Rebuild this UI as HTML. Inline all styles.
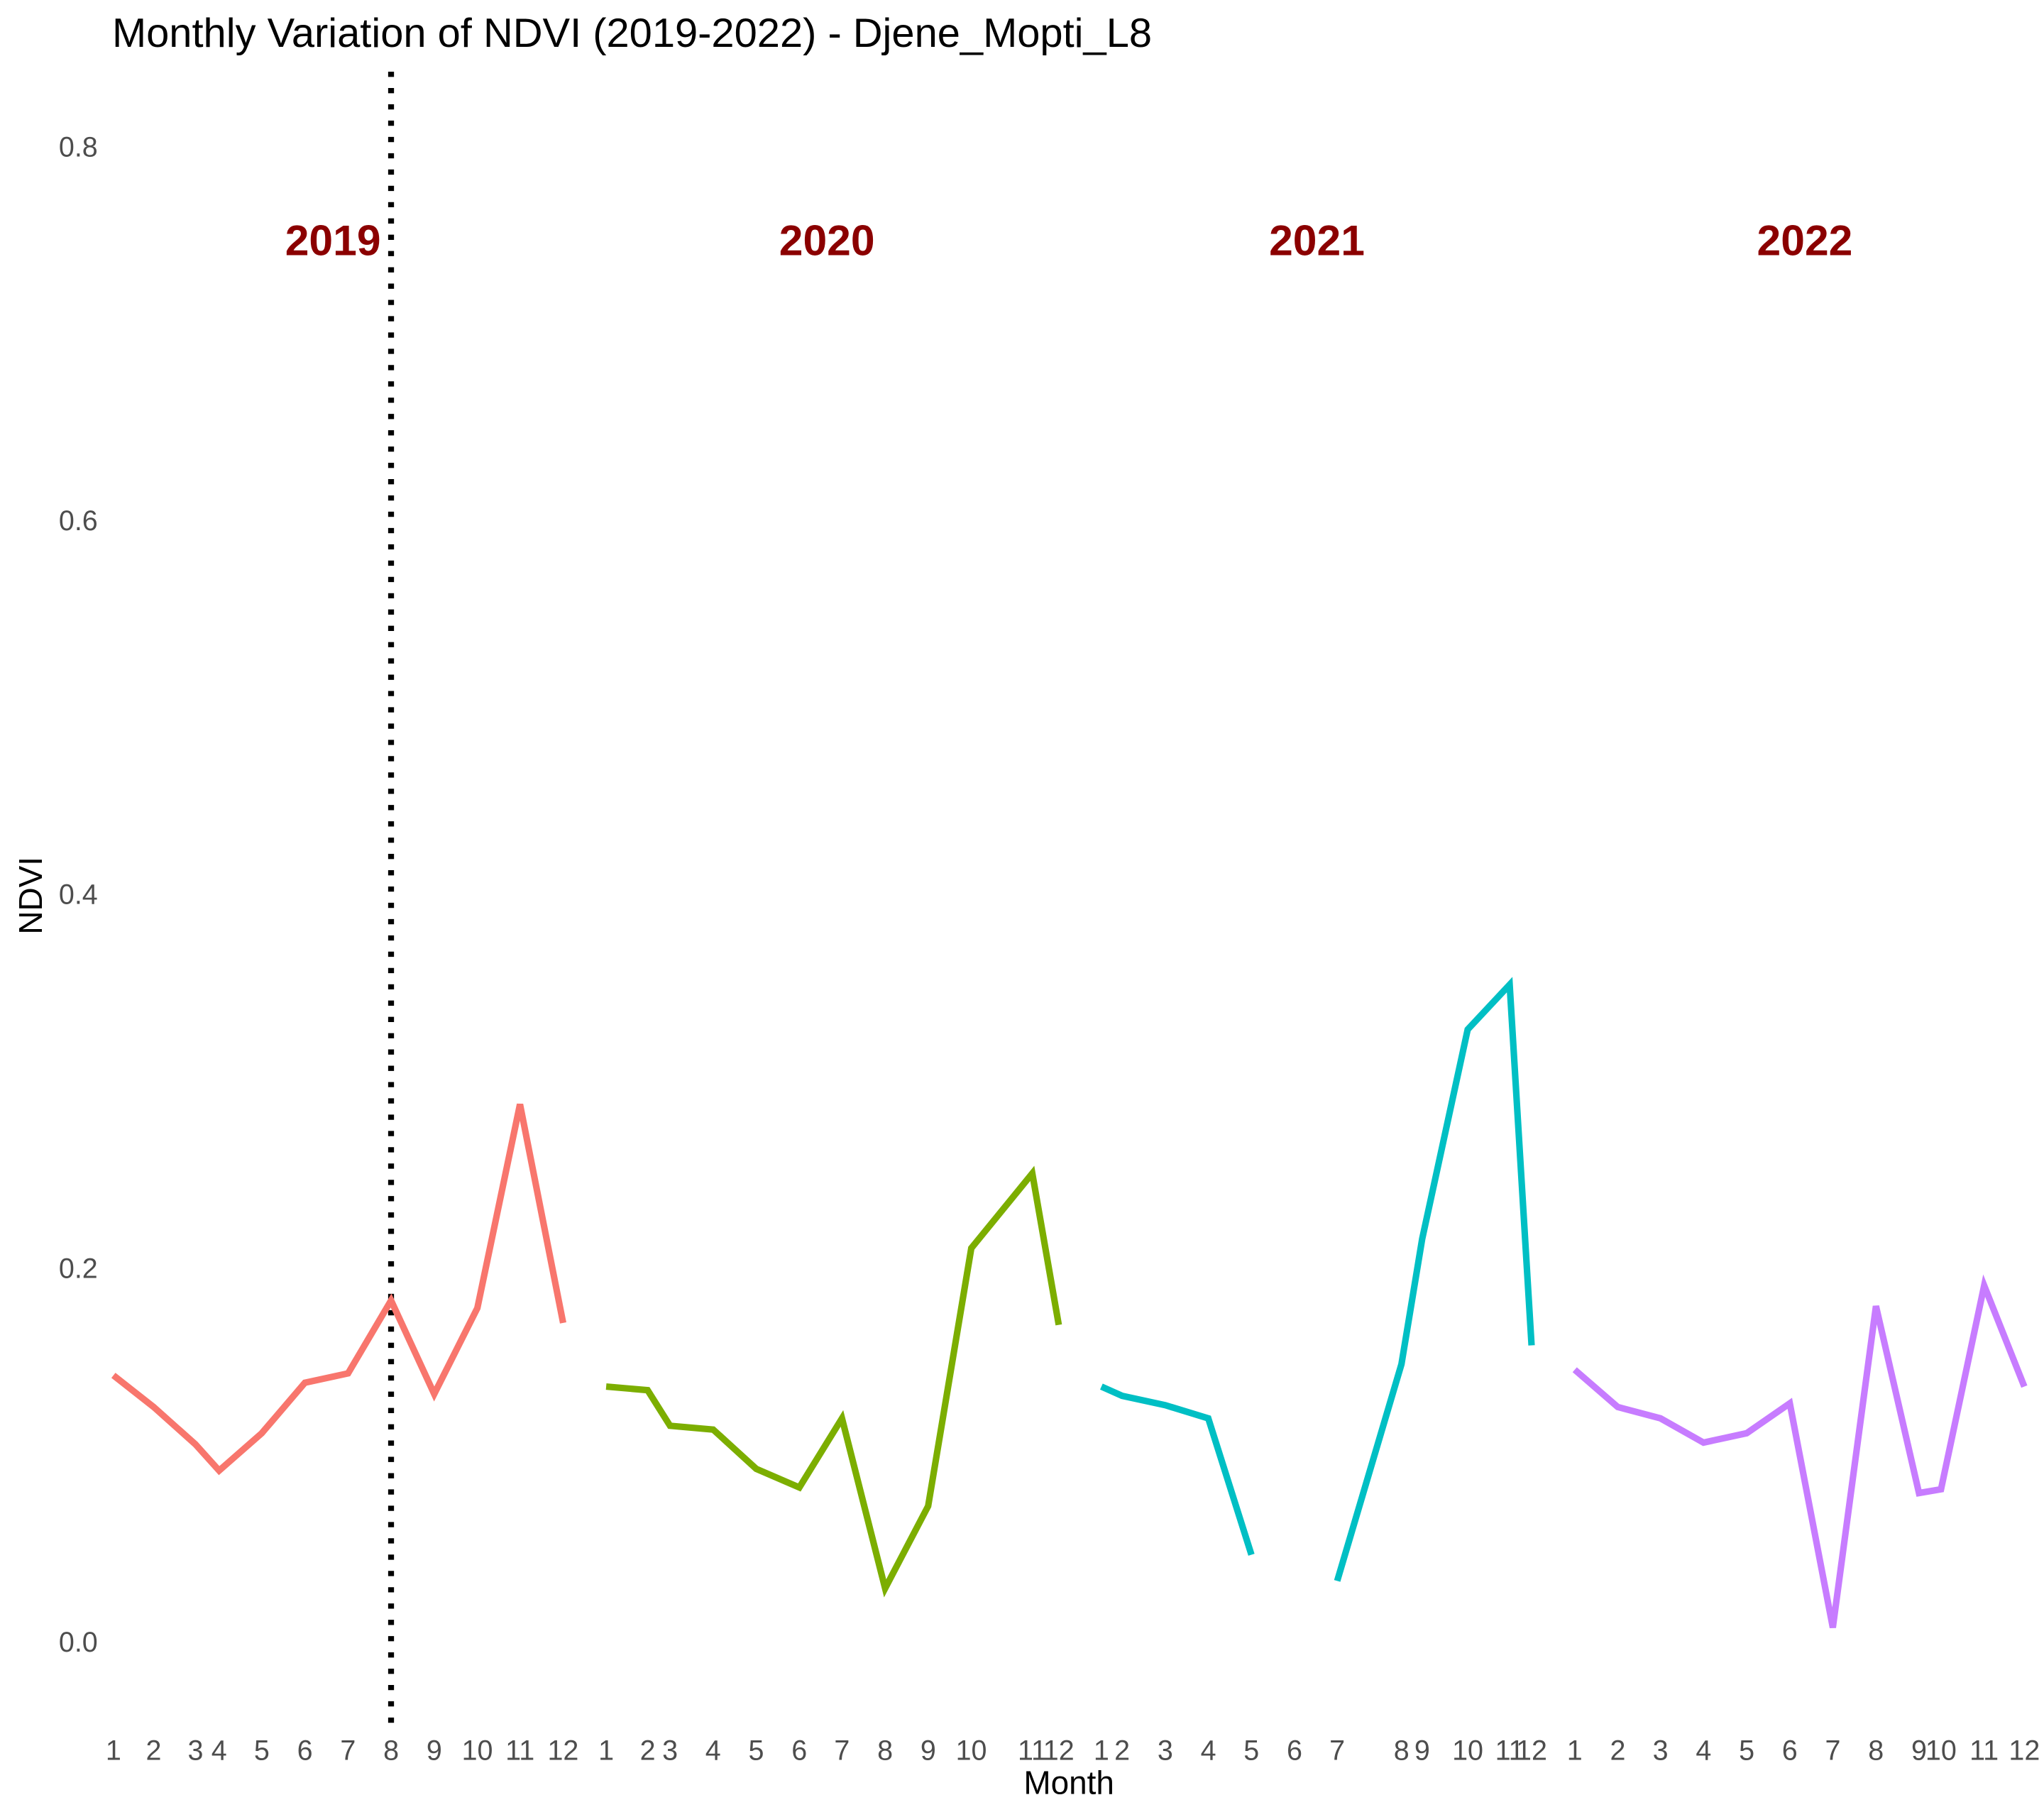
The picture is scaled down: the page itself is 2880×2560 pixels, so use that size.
<!DOCTYPE html>
<html><head><meta charset="utf-8"><style>
html,body{margin:0;padding:0;background:#fff}
svg{display:block}
text{font-family:"Liberation Sans",sans-serif}
</style></head><body>
<svg id="chart" width="2880" height="2560" viewBox="0 0 1568 1393.8" preserveAspectRatio="none" xmlns="http://www.w3.org/2000/svg">
<text x="86" y="36" font-size="31.5" fill="#000">Monthly Variation of NDVI (2019-2022) - Djene_Mopti_L8</text>
<text transform="translate(32,687) rotate(-90)" font-size="25" text-anchor="middle" fill="#000">NDVI</text>
<text x="820" y="1376" font-size="25" text-anchor="middle" fill="#000">Month</text>
<line x1="300" y1="55" x2="300" y2="1325" stroke="#000" stroke-width="4.5" stroke-dasharray="4,8.5"/>
<g id="yticks"></g><g id="xticks"></g><g id="lines"></g><g id="yearlabels"></g>
</svg>
<script>
const years = ['2019','2020','2021','2022'];
const colors = ['#F8766D','#7CAE00','#00BFC4','#C77CFF'];
const months = [1,2,3,4,5,6,7,8,9,10,11,12];
// x position in decimal months since Jan 2019
const t2019 = [0,0.99,2.02,2.6,3.65,4.71,5.77,6.83,7.89,8.95,10.0,11.06];
const t2020 = [12.12,13.14,13.69,14.75,15.81,16.87,17.92,18.98,20.04,21.1,22.6,23.25];
const t2021 = [24.3,24.81,25.87,26.93,27.99,29.05,30.1,31.68,32.19,33.31,34.34,34.88];
const t2022 = [35.94,37.0,38.05,39.11,40.17,41.23,42.29,43.35,44.41,44.95,46.01,47.0];
const v2019 = [0.143,0.126,0.106,0.092,0.112,0.139,0.144,0.183,0.133,0.179,0.288,0.171];
const v2020 = [0.137,0.135,0.116,0.114,0.093,0.083,0.120,0.029,0.073,0.211,0.251,0.170];
const v2021 = [0.137,0.132,0.127,0.120,0.047,null,0.033,0.149,0.216,0.328,0.352,0.159];
const v2022 = [0.146,0.126,0.120,0.107,0.112,0.128,0.008,0.180,0.080,0.082,0.191,0.137];
const yTicks = [0.0,0.2,0.4,0.6,0.8];
const yearLabelT = [5.4,17.55,29.6,41.6];
const yearLabelV = 0.75;

const NS='http://www.w3.org/2000/svg';
const xs = t => 87 + t*31.19;
const ys = v => 1260 - v*1433.75;
function mk(tag, parent){const e=document.createElementNS(NS,tag);document.getElementById(parent).appendChild(e);return e;}

yTicks.forEach(v=>{
  const e=mk('text','yticks');
  
  
  e.setAttribute('x',75);e.setAttribute('y',ys(v)+7);
  e.setAttribute('text-anchor','end');e.setAttribute('font-size','21.5');e.setAttribute('fill','#4d4d4d');
  e.textContent=v.toFixed(1);
});
const T=[t2019,t2020,t2021,t2022], V=[v2019,v2020,v2021,v2022];
T.forEach((ts,yi)=>{
  ts.forEach((t,i)=>{
    const e=mk('text','xticks');
    
    
    e.setAttribute('x',xs(t));e.setAttribute('y',1350);
    e.setAttribute('text-anchor','middle');e.setAttribute('font-size','21.5');e.setAttribute('fill','#4d4d4d');
    e.textContent=months[i];
  });
  let segs=[],cur=[];
  ts.forEach((t,i)=>{const v=V[yi][i]; if(v===null){if(cur.length)segs.push(cur);cur=[];} else cur.push(xs(t).toFixed(1)+','+ys(v).toFixed(1));});
  if(cur.length)segs.push(cur);
  segs.forEach(s=>{
    const p=mk('polyline','lines');
    
    
    p.setAttribute('points',s.join(' '));
    p.setAttribute('fill','none');p.setAttribute('stroke',colors[yi]);p.setAttribute('stroke-width','5');
  });
  const l=mk('text','yearlabels');
  
  
  l.setAttribute('x',xs(yearLabelT[yi]));l.setAttribute('y',ys(yearLabelV)+11);
  l.setAttribute('text-anchor','middle');l.setAttribute('font-size','33');l.setAttribute('font-weight','bold');l.setAttribute('fill','#8B0000');
  l.textContent=years[yi];
});
</script>
</body></html>
